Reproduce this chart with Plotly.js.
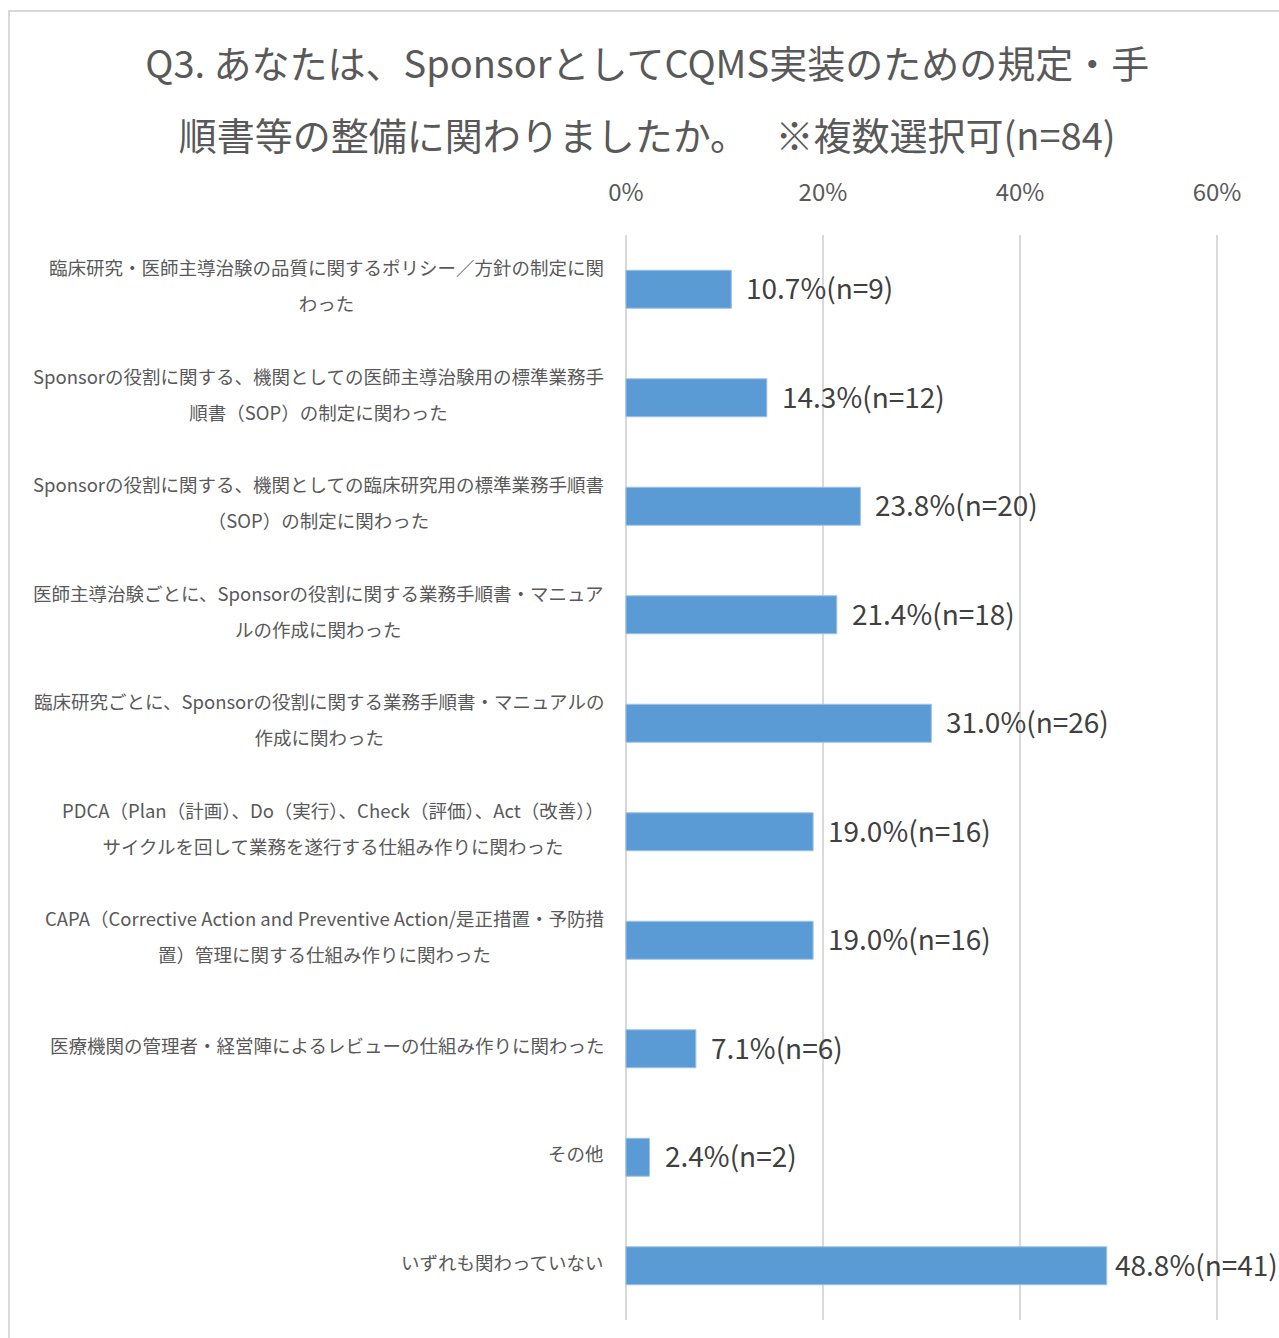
<!DOCTYPE html>
<html><head><meta charset="utf-8">
<script src="https://cdn.plot.ly/plotly-3.0.1.min.js"></script>
<style>
html,body{margin:0;padding:0;background:#fff;}
#wrap{position:relative;width:1279px;height:1338px;overflow:hidden;}
#chart{width:1279px;height:1338px;}
#frame{position:absolute;left:8px;top:10px;width:1320px;height:1380px;border:2px solid #d9d9d9;pointer-events:none;box-sizing:border-box;}
</style></head><body>
<div id="wrap"><div id="chart"></div><div id="frame"></div></div>
<script>
// Category labels (line breaks as in the reference)
const categories = [
  ['臨床研究・医師主導治験の品質に関するポリシー／方針の制定に関', 'わった'],
  ['Sponsorの役割に関する、機関としての医師主導治験用の標準業務手', '順書（SOP）の制定に関わった'],
  ['Sponsorの役割に関する、機関としての臨床研究用の標準業務手順書', '（SOP）の制定に関わった'],
  ['医師主導治験ごとに、Sponsorの役割に関する業務手順書・マニュア', 'ルの作成に関わった'],
  ['臨床研究ごとに、Sponsorの役割に関する業務手順書・マニュアルの', '作成に関わった'],
  ['PDCA（Plan（計画）、Do（実行）、Check（評価）、Act（改善））', 'サイクルを回して業務を遂行する仕組み作りに関わった'],
  ['CAPA（Corrective Action and Preventive Action/是正措置・予防措', '置）管理に関する仕組み作りに関わった'],
  ['医療機関の管理者・経営陣によるレビューの仕組み作りに関わった'],
  ['その他'],
  ['いずれも関わっていない']
];
const percentValues = [10.7, 14.3, 23.8, 21.4, 31.0, 19.0, 19.0, 7.1, 2.4, 48.8];
const counts = [9, 12, 20, 18, 26, 16, 16, 6, 2, 41];
const xTickValues = [0, 20, 40, 60];
const xTickLabels = ['0%', '20%', '40%', '60%'];
const titleLines = ['Q3. あなたは、SponsorとしてCQMS実装のための規定・手', '順書等の整備に関わりましたか。　 ※複数選択可(n=84)'];

const FONT = '"Noto Sans CJK JP", sans-serif';
const catKeys = categories.map(l => l.join(''));

const trace = {
  type: 'bar',
  orientation: 'h',
  x: percentValues,
  y: catKeys,
  marker: {color: '#5B9BD5', line: {color: '#9fc2e7', width: 1}},
  hoverinfo: 'skip'
};

// value labels; the longest one is pulled closer to its bar so it stays inside the frame (as in the reference)
const valueLabels = percentValues.map((v, i) => ({
  x: v, y: catKeys[i], xref: 'x', yref: 'y',
  text: v.toFixed(1) + '%(n=' + counts[i] + ')',
  showarrow: false, xanchor: 'left', yanchor: 'middle',
  xshift: v > 45 ? 6 : 13, yshift: 2,
  font: {family: FONT, size: 28, color: '#404040'}
}));

const categoryLabels = categories.map((lines, i) => ({
  x: 0, y: catKeys[i], xref: 'paper', yref: 'y',
  text: lines.map(s => '<span style="font-size:18.5px">' + s + '</span>').join('<br>'),
  showarrow: false, xanchor: 'right', yanchor: 'middle', align: 'center',
  xshift: -15, yshift: 4,
  font: {family: FONT, size: 27.7, color: '#595959'}
}));

const layout = {
  width: 1279, height: 1338,
  margin: {l: 621, r: 57, t: 235, b: 18},
  paper_bgcolor: '#ffffff', plot_bgcolor: '#ffffff',
  font: {family: FONT, color: '#595959'},
  title: {
    text: titleLines.map(s => '<span style="font-size:38px">' + s + '</span>').join('<br>'),
    font: {family: FONT, size: 55, color: '#595959'},
    x: 0.506, xanchor: 'center', y: 0.9415, yanchor: 'top'
  },
  bargap: 0.65,
  showlegend: false,
  hovermode: false,
  xaxis: {
    side: 'top', range: [-0.5, 60.5], tickvals: xTickValues, ticktext: xTickLabels,
    showgrid: true, gridcolor: '#d9d9d9', gridwidth: 1.5,
    zeroline: true, zerolinecolor: '#d9d9d9', zerolinewidth: 1.5,
    showline: false, ticks: '',
    ticklabelstandoff: 28,
    tickfont: {size: 24, color: '#595959'}
  },
  yaxis: {
    type: 'category', categoryorder: 'array', categoryarray: catKeys,
    autorange: 'reversed',
    showticklabels: false,
    showgrid: false, zeroline: false, showline: false, ticks: ''
  },
  annotations: valueLabels.concat(categoryLabels)
};

Plotly.newPlot('chart', [trace], layout, {displayModeBar: false, staticPlot: true});
</script>
</body></html>
